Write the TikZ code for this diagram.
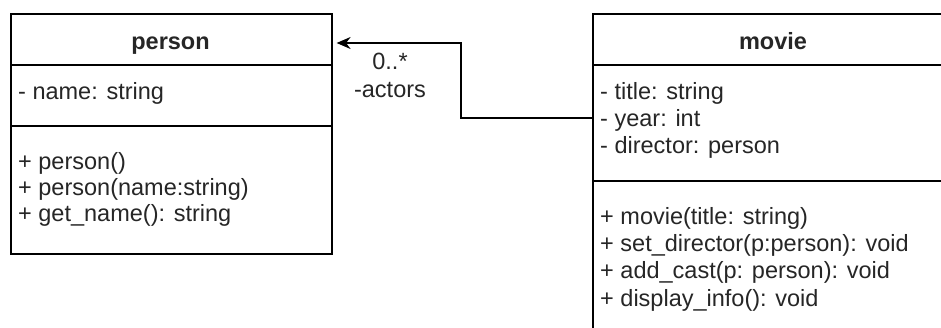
\documentclass[tikz,border=0pt]{standalone}
\usepackage{fontspec}
\setmainfont{Liberation Sans}
\usetikzlibrary{arrows.meta}
\begin{document}
\begin{tikzpicture}[x=1pt,y=-1pt,
  umlbox/.style={draw=black, line width=1.6pt, fill=white, rectangle, inner sep=0pt, anchor=north west},
  divider/.style={draw=black, line width=1.6pt},
  txt/.style={inner sep=0pt, anchor=base west, text=black!85, font=\fontsize{23.5}{27}\selectfont},
  ttl/.style={inner sep=0pt, anchor=base, text=black!85, font=\fontsize{23.5}{27}\selectfont\bfseries},
  lbl/.style={inner sep=0pt, anchor=base, text=black!85, font=\fontsize{23.5}{27}\selectfont},
  conn/.style={draw=black, line width=1.6pt, -{Stealth[length=14pt,width=12pt]}}
]
\clip (0,0) rectangle (941,328);
\fill[white] (0,0) rectangle (941,328);

% person class
\node[umlbox, minimum width=321pt, minimum height=240pt] (person) at (10,13) {};
\coordinate (pd1) at (0,65);
\coordinate (pd2) at (0,126);
\draw[divider] (person.west |- pd1) -- (person.east |- pd1);
\draw[divider] (person.west |- pd2) -- (person.east |- pd2);
\node[ttl] (ptitle) at (170.5,50) {person};
\node[txt] (pa1) at (18,100) {- name: string};
\node[txt] (pm1) at (18,170) {+ person()};
\node[txt] (pm2) at (18,196) {+ person(name:string)};
\node[txt] (pm3) at (18,222) {+ get\_name(): string};

% movie class
\node[umlbox, minimum width=363pt, minimum height=340pt] (movie) at (592,13) {};
\coordinate (md1) at (0,65);
\coordinate (md2) at (0,181);
\draw[divider] (movie.west |- md1) -- (movie.east |- md1);
\draw[divider] (movie.west |- md2) -- (movie.east |- md2);
\node[ttl] (mtitle) at (773,50) {movie};
\node[txt] (ma1) at (600,100) {- title: string};
\node[txt] (ma2) at (600,127) {- year: int};
\node[txt] (ma3) at (600,154) {- director: person};
\node[txt] (mm1) at (600,225) {+ movie(title: string)};
\node[txt] (mm2) at (600,252) {+ set\_director(p:person): void};
\node[txt] (mm3) at (600,279) {+ add\_cast(p: person): void};
\node[txt] (mm4) at (600,306) {+ display\_info(): void};

% association
\coordinate (cstart) at (0,118);
\coordinate (cbend) at (461,43);
\coordinate (cend) at (0,43);
\draw[conn, shorten >=4pt] (movie.west |- cstart) -| (cbend) -- (person.east |- cend);
\node[lbl] (mult) at (390,70) {0..*};
\node[lbl] (role) at (390,98) {-actors};
\end{tikzpicture}
\end{document}
